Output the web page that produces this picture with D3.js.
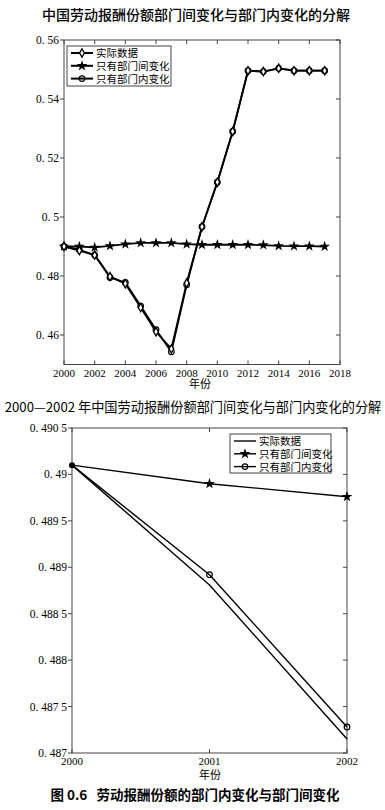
<!DOCTYPE html>
<html>
<head>
<meta charset="utf-8">
<script src="https://cdn.jsdelivr.net/npm/d3@7"></script>
<style>
  body { margin: 0; background: #fff; }
  svg { display: block; }
  .cn { font-family: "Noto Sans CJK SC", sans-serif; }
  .cns { font-family: "Liberation Serif", "Noto Sans CJK SC", serif; }
  .num { font-family: "Liberation Serif", "DejaVu Serif", serif; }
</style>
</head>
<body>
<svg id="chart" width="385" height="810"></svg>
<script>
// ---- top chart data (2000-2017) ----
const years = d3.range(2000, 2018);
const actual = [0.4900, 0.4886, 0.4871, 0.4798, 0.4774, 0.4693, 0.4611, 0.4553, 0.4776,
                0.4967, 0.5118, 0.5290, 0.5496, 0.5493, 0.5504, 0.5496, 0.5496, 0.5496];
const betweenOnly = [0.4900, 0.4900, 0.4897, 0.4902, 0.4908, 0.4912, 0.4912, 0.4912, 0.4908,
                     0.4906, 0.4906, 0.4906, 0.4906, 0.4905, 0.4902, 0.4901, 0.4901, 0.4900];
const withinOnly = [0.4900, 0.4889, 0.4871, 0.4795, 0.4778, 0.4698, 0.4618, 0.4543, 0.4770,
                    0.4967, 0.5118, 0.5290, 0.5496, 0.5493, 0.5504, 0.5496, 0.5496, 0.5496];
const topXTicks = d3.range(2000, 2019, 2);
const topYTicks = [0.46, 0.48, 0.5, 0.52, 0.54, 0.56];
const topYLabels = ['0. 46', '0. 48', '0. 5', '0. 52', '0. 54', '0. 56'];

// ---- bottom chart data (2000-2002) ----
const years2 = [2000, 2001, 2002];
const actual2 = [0.49010, 0.48881, 0.48715];
const betweenOnly2 = [0.49010, 0.48990, 0.48976];
const withinOnly2 = [0.49010, 0.48892, 0.48728];
const botYTicks = [0.487, 0.4875, 0.488, 0.4885, 0.489, 0.4895, 0.49, 0.4905];
const botYLabels = ['0. 487', '0. 487 5', '0. 488', '0. 488 5', '0. 489', '0. 489 5', '0. 49', '0. 490 5'];

const legendNames = ['实际数据', '只有部门间变化', '只有部门内变化'];

const svg = d3.select('#chart');
const axisColor = '#444';

function frame(x, y, xTicks, yTicks, yLabels) {
    const [x0, x1] = x.range();
    const [y0, y1] = y.range(); // y0 bottom, y1 top
    const g = svg.append('g');
    g.append('rect')
        .attr('x', x0).attr('y', y1)
        .attr('width', x1 - x0).attr('height', y0 - y1)
        .attr('fill', 'none').attr('stroke', axisColor).attr('stroke-width', 1);
    // y ticks: outward on left, inward on right
    yTicks.forEach((t, i) => {
        const yy = y(t);
        g.append('line').attr('x1', x0 - 4).attr('x2', x0).attr('y1', yy).attr('y2', yy)
            .attr('stroke', axisColor);
        g.append('line').attr('x1', x1 - 4).attr('x2', x1).attr('y1', yy).attr('y2', yy)
            .attr('stroke', axisColor);
        g.append('text').attr('class', 'num')
            .attr('x', x0 - 5).attr('y', yy + 4)
            .attr('text-anchor', 'end').attr('font-size', 11.5)
            .text(yLabels[i]);
    });
    // x ticks inward on top and bottom
    xTicks.forEach(t => {
        const xx = x(t);
        g.append('line').attr('x1', xx).attr('x2', xx).attr('y1', y0).attr('y2', y0 - 4)
            .attr('stroke', axisColor);
        g.append('line').attr('x1', xx).attr('x2', xx).attr('y1', y1).attr('y2', y1 + 4)
            .attr('stroke', axisColor);
        g.append('text').attr('class', 'num')
            .attr('x', xx).attr('y', y0 + 12)
            .attr('text-anchor', 'middle').attr('font-size', 11)
            .text(t);
    });
}

function drawMarker(g, type, cx, cy) {
    if (type === 'diamond') {
        g.append('path').attr('d', d3.symbol(d3.symbolDiamond, 20)())
            .attr('transform', `translate(${cx},${cy})`)
            .attr('fill', '#fff').attr('stroke', '#000').attr('stroke-width', 1.3);
    } else if (type === 'star') {
        g.append('path').attr('d', d3.symbol(d3.symbolStar, 36)())
            .attr('transform', `translate(${cx},${cy})`)
            .attr('fill', '#000');
    } else if (type === 'circle') {
        g.append('circle').attr('cx', cx).attr('cy', cy).attr('r', 2.8)
            .attr('fill', 'none').attr('stroke', '#000').attr('stroke-width', 1.2);
    }
}

function series(x, y, xs, vals, marker, width, markerIdx) {
    const g = svg.append('g');
    const line = d3.line().x((d, i) => x(xs[i])).y(d => y(d));
    g.append('path').datum(vals).attr('d', line)
        .attr('fill', 'none').attr('stroke', '#000').attr('stroke-width', width)
        .attr('stroke-linejoin', 'round');
    if (marker) {
        vals.forEach((v, i) => {
            if (!markerIdx || markerIdx.includes(i)) drawMarker(g, marker, x(xs[i]), y(v));
        });
    }
}

function legend(lx, ly, w, h, markers, lineW) {
    const g = svg.append('g');
    g.append('rect').attr('x', lx).attr('y', ly).attr('width', w).attr('height', h)
        .attr('fill', '#fff').attr('stroke', axisColor).attr('stroke-width', 1);
    legendNames.forEach((name, i) => {
        const yy = ly + 7 + i * 12.8;
        g.append('line').attr('x1', lx + 4).attr('x2', lx + 26).attr('y1', yy).attr('y2', yy)
            .attr('stroke', '#000').attr('stroke-width', lineW);
        if (markers[i]) drawMarker(g, markers[i], lx + 15, yy);
        g.append('text').attr('class', 'cns')
            .attr('x', lx + 29).attr('y', yy + 4)
            .attr('font-size', 10.5).text(name);
    });
}

// ---------- top chart ----------
const x1 = d3.scaleLinear().domain([2000, 2018]).range([64, 340]);
const y1 = d3.scaleLinear().domain([0.45, 0.56]).range([364.5, 40]);

svg.append('text').attr('class', 'cn')
    .attr('x', 196).attr('y', 20).attr('text-anchor', 'middle')
    .attr('font-size', 14).attr('font-weight', 500)
    .text('中国劳动报酬份额部门间变化与部门内变化的分解');

frame(x1, y1, topXTicks, topYTicks, topYLabels);
series(x1, y1, years, betweenOnly, 'star', 1.8);
series(x1, y1, years, withinOnly, 'circle', 1.8);
series(x1, y1, years, actual, 'diamond', 1.8);
legend(67, 46, 104, 40, ['diamond', 'star', 'circle'], 2);

svg.append('text').attr('class', 'cns')
    .attr('x', 200).attr('y', 388).attr('text-anchor', 'middle')
    .attr('font-size', 11).text('年份');

// ---------- bottom chart ----------
const x2 = d3.scaleLinear().domain([2000, 2002]).range([72, 347]);
const y2 = d3.scaleLinear().domain([0.487, 0.4905]).range([753, 428]);

svg.append('text').attr('class', 'cn')
    .attr('x', 193).attr('y', 412).attr('text-anchor', 'middle')
    .attr('font-size', 13.2)
    .text('2000—2002 年中国劳动报酬份额部门间变化与部门内变化的分解');

frame(x2, y2, years2, botYTicks, botYLabels);
series(x2, y2, years2, actual2, null, 1.4);
series(x2, y2, years2, betweenOnly2, 'star', 1.4, [1, 2]);
series(x2, y2, years2, withinOnly2, 'circle', 1.4, [1, 2]);
svg.append('circle').attr('cx', x2(2000)).attr('cy', y2(actual2[0])).attr('r', 3).attr('fill', '#000');
legend(230, 434, 101, 39, [null, 'star', 'circle'], 1.4);

svg.append('text').attr('class', 'cns')
    .attr('x', 210).attr('y', 779).attr('text-anchor', 'middle')
    .attr('font-size', 11).text('年份');

svg.append('text').attr('class', 'cn')
    .attr('x', 195).attr('y', 800).attr('text-anchor', 'middle')
    .attr('font-size', 13.5).attr('font-weight', 700)
    .style('white-space', 'pre')
    .text('图 0.6   劳动报酬份额的部门内变化与部门间变化');
</script>
</body>
</html>
